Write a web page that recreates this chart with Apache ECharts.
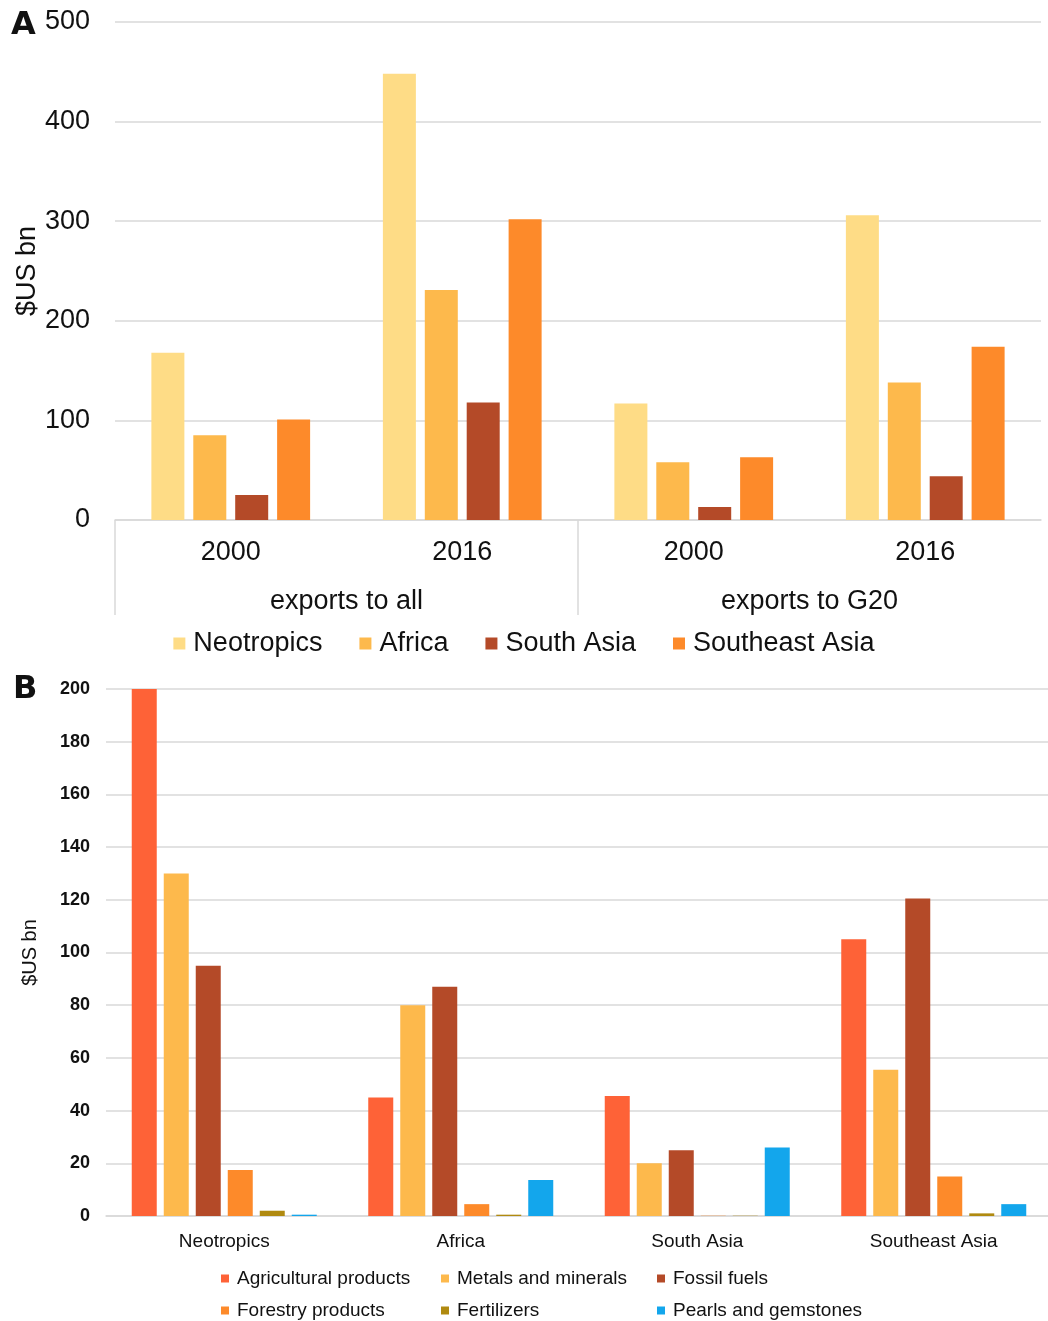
<!DOCTYPE html>
<html>
<head>
<meta charset="utf-8">
<script src="https://cdn.jsdelivr.net/npm/echarts@6/dist/echarts.min.js"></script>
<style>
html,body{margin:0;padding:0;background:#fff;}
#chart{width:1048px;height:1321px;}
</style>
</head>
<body>
<div id="chart"></div>
<script>
// Panel A data
const aYears = ['2000', '2016', '2000', '2016'];
const aGroups = ['exports to all', 'exports to G20'];
const aNeotropics = [168, 448, 117, 306];
const aAfrica = [85, 231, 58, 138];
const aSouthAsia = [25, 118, 13, 44];
const aSoutheastAsia = [101, 302, 63, 174];
const aTicks = [0, 100, 200, 300, 400, 500];

// Panel B data
const bRegions = ['Neotropics', 'Africa', 'South Asia', 'Southeast Asia'];
const bAgricultural = [200, 45, 45.5, 105];
const bMetals = [130, 80, 20, 55.5];
const bFossil = [95, 87, 25, 120.5];
const bForestry = [17.5, 4.5, 0.1, 15];
const bFertilizers = [2, 0.5, 0.1, 1];
const bPearls = [0.5, 13.7, 26, 4.5];
const bTicks = [0, 20, 40, 60, 80, 100, 120, 140, 160, 180, 200];

const FONT = 'Liberation Sans, Arial, sans-serif';
const GRID = '#d9d9d9';
const colA = {
  'Neotropics': '#FEDC86',
  'Africa': '#FDB94C',
  'South Asia': '#B44A28',
  'Southeast Asia': '#FD8A2A'
};
const colB = {
  'Agricultural products': '#FE6237',
  'Metals and minerals': '#FDB94C',
  'Fossil fuels': '#B44A28',
  'Forestry products': '#FD8A2A',
  'Fertilizers': '#B08A10',
  'Pearls and gemstones': '#13A6EC'
};

const chart = echarts.init(document.getElementById('chart'), null, {renderer: 'canvas'});

function barA(name, data) {
  return {
    type: 'bar', name: name, data: data, xAxisIndex: 0, yAxisIndex: 0,
    barWidth: 33, barGap: '27%',
    itemStyle: {color: colA[name]}
  };
}
function barB(name, data) {
  return {
    type: 'bar', name: name, data: data, xAxisIndex: 2, yAxisIndex: 1,
    barWidth: 25, barGap: '28%',
    itemStyle: {color: colB[name]}
  };
}
function legB(name, left, top) {
  return {
    data: [name], left: left, top: top,
    itemWidth: 8, itemHeight: 8, icon: 'rect',
    textStyle: {fontSize: 19, color: '#111', fontFamily: FONT, padding: [0, 0, 0, 3]}
  };
}

const option = {
  backgroundColor: '#fff',
  animation: false,
  textStyle: {fontFamily: FONT},
  graphic: [
    {type: 'text', left: 11, top: 10, style: {text: 'A', font: 'bold 32px "DejaVu Sans", sans-serif', fill: '#111'}},
    {type: 'text', left: 13, top: 674, style: {text: 'B', font: 'bold 32px "DejaVu Sans", sans-serif', fill: '#111'}}
  ],
  grid: [
    {left: 115, width: 926, top: 22, height: 498, outerBoundsMode: 'none', containLabel: false},
    {left: 106, width: 946, top: 689, height: 527, outerBoundsMode: 'none', containLabel: false},
    {left: 115, width: 463, top: 519, height: 1, outerBoundsMode: 'none', containLabel: false}
  ],
  legend: [
    {
      data: ['Neotropics', 'Africa', 'South Asia', 'Southeast Asia'],
      top: 625, left: 'center',
      itemWidth: 12, itemHeight: 12, itemGap: 37,
      icon: 'rect',
      textStyle: {fontSize: 27, color: '#111', fontFamily: FONT, padding: [0, 0, 0, 3]}
    },
    legB('Agricultural products', 216, 1264),
    legB('Metals and minerals', 436, 1264),
    legB('Fossil fuels', 652, 1264),
    legB('Forestry products', 216, 1296),
    legB('Fertilizers', 436, 1296),
    legB('Pearls and gemstones', 652, 1296)
  ],
  xAxis: [
    {
      type: 'category', gridIndex: 0, data: aYears,
      axisLine: {show: true, lineStyle: {color: GRID, width: 1.5}},
      axisTick: {show: false},
      axisLabel: {fontSize: 27, color: '#111', margin: 19, interval: 0}
    },
    {
      type: 'category', gridIndex: 0, data: aGroups, position: 'bottom',
      axisLine: {show: false}, axisTick: {show: false},
      axisLabel: {fontSize: 27, color: '#111', margin: 68, interval: 0}
    },
    {
      type: 'category', gridIndex: 1, data: bRegions,
      axisLine: {show: true, lineStyle: {color: GRID, width: 1.5}},
      axisTick: {show: false},
      axisLabel: {fontSize: 19, color: '#111', margin: 16, interval: 0}
    },
    {
      type: 'category', gridIndex: 2, data: [''],
      axisLine: {show: false},
      axisTick: {show: true, length: 95, lineStyle: {color: GRID, width: 1.5}},
      axisLabel: {show: false}
    }
  ],
  yAxis: [
    {
      type: 'value', gridIndex: 0, min: 0, max: 500, interval: 100,
      name: '$US bn', nameLocation: 'middle', nameGap: 74, nameMoveOverlap: false,
      nameTextStyle: {fontSize: 27, color: '#111', fontFamily: FONT},
      axisLine: {show: false}, axisTick: {show: false},
      axisLabel: {fontSize: 27, color: '#111', margin: 25,
        formatter: function (v) { return aTicks.indexOf(v) >= 0 ? String(v) : ''; }},
      splitLine: {lineStyle: {color: GRID, width: 1.5}}
    },
    {
      type: 'value', gridIndex: 1, min: 0, max: 200, interval: 20,
      name: '$US bn', nameLocation: 'middle', nameGap: 66, nameMoveOverlap: false,
      nameTextStyle: {fontSize: 20, color: '#111', fontFamily: FONT},
      axisLine: {show: false}, axisTick: {show: false},
      axisLabel: {fontSize: 18, color: '#111', margin: 16, fontWeight: 'bold',
        formatter: function (v) { return bTicks.indexOf(v) >= 0 ? String(v) : ''; }},
      splitLine: {lineStyle: {color: GRID, width: 1.5}}
    },
    {
      type: 'value', gridIndex: 2, show: false
    }
  ],
  series: [
    barA('Neotropics', aNeotropics),
    barA('Africa', aAfrica),
    barA('South Asia', aSouthAsia),
    barA('Southeast Asia', aSoutheastAsia),
    barB('Agricultural products', bAgricultural),
    barB('Metals and minerals', bMetals),
    barB('Fossil fuels', bFossil),
    barB('Forestry products', bForestry),
    barB('Fertilizers', bFertilizers),
    barB('Pearls and gemstones', bPearls)
  ]
};
chart.setOption(option);
</script>
</body>
</html>
